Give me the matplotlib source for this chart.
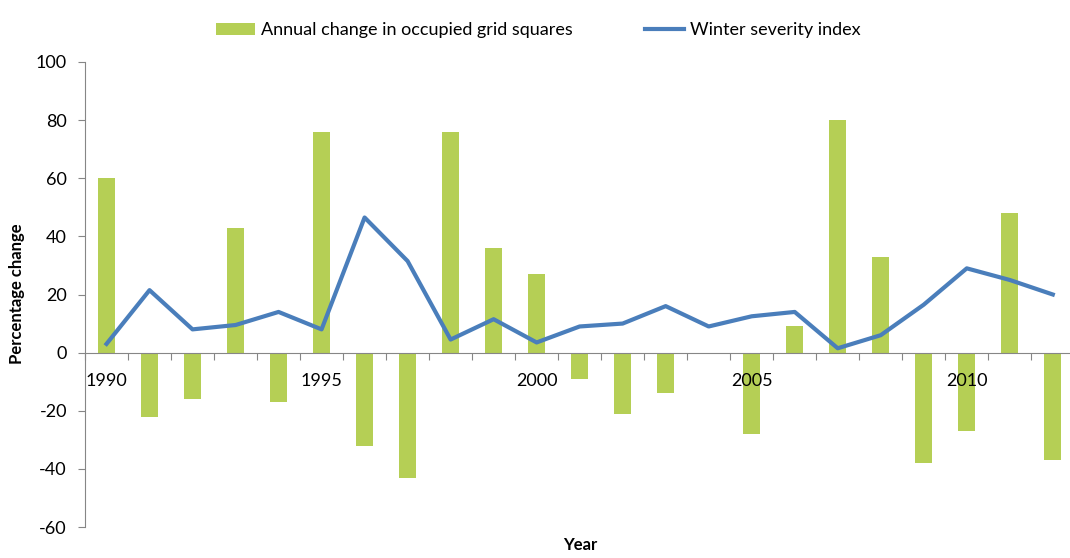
import matplotlib
matplotlib.use('Agg')
import matplotlib.pyplot as plt
import numpy as np

plt.rcParams['font.family'] = ['Lato', 'DejaVu Sans']
plt.rcParams['axes.unicode_minus'] = False

years = list(range(1990, 2013))
annual_change = [60, -22, -16, 43, -17, 76, -32, -43, 76, 36, 27, -9, -21, -14, 0,
                 -28, 9, 80, 33, -38, -27, 48, -37]
winter_index = [3, 21.5, 8, 9.5, 14, 8, 46.5, 31.5, 4.5, 11.5, 3.5, 9, 10, 16, 9,
                12.5, 14, 1.5, 6, 16.5, 29, 25, 20]
year_labels = [str(y) if y % 5 == 0 else '' for y in years]

bar_col = '#B5CF55'
line_col = '#4A7EBB'

fig = plt.figure(figsize=(10.7, 5.58), dpi=100)
ax = fig.add_axes([85/1070, 31/558, 985/1070, 465/558])

x = np.arange(len(years))
bars = ax.bar(x, annual_change, width=0.4, color=bar_col, zorder=2)
line, = ax.plot(x, winter_index, color=line_col, lw=3, zorder=3)

ax.set_xlim(-0.5, 22.4)
ax.set_ylim(-60, 100)
ax.set_yticks(range(-60, 101, 20))

# x axis sits on zero, ticks at category boundaries
ax.spines['bottom'].set_position(('data', 0))
ax.spines['top'].set_visible(False)
ax.spines['right'].set_visible(False)
for s in ['left', 'bottom']:
    ax.spines[s].set_color('#868686')
ax.set_xticks(np.arange(-0.5, 22.5, 1))
ax.set_xticklabels([])
ax.tick_params(axis='x', direction='out', length=5, color='#868686')
ax.tick_params(axis='y', direction='out', length=5, color='#868686', labelsize=13, pad=8)
for i, lab in enumerate(year_labels):
    if lab:
        ax.text(i, -7, lab, ha='center', va='top', fontsize=13)

fig.text(17/1070, 1 - 294/558, 'Percentage change', rotation=90, ha='center', va='center',
         fontsize=12, fontweight='bold')
fig.text(580/1070, 13/558, 'Year', ha='center', va='center', fontsize=12, fontweight='bold')

ax.legend([bars, line], ['Annual change in occupied grid squares', 'Winter severity index'],
          loc='upper center', bbox_to_anchor=(0.46, 1.12), ncol=2, frameon=False,
          fontsize=13, handlelength=2.2, columnspacing=4, handletextpad=0.3)

fig.savefig('out.png', dpi=100)
